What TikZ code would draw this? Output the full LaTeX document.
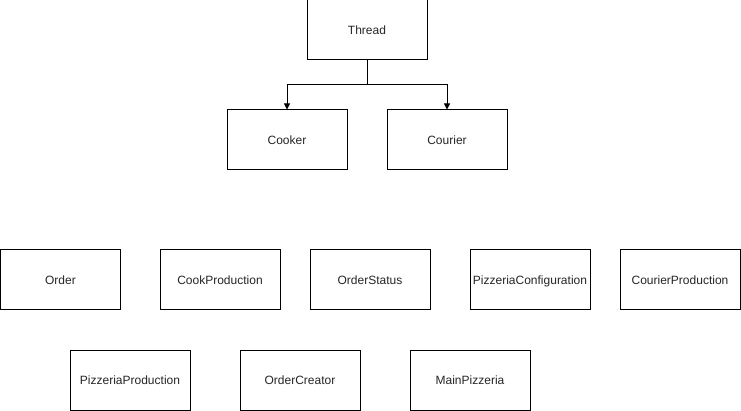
\documentclass[tikz,border=0pt]{standalone}
\usepackage{fontspec}
\setmainfont{Liberation Sans}
\usetikzlibrary{arrows.meta}
\begin{document}
\begin{tikzpicture}[x=1pt,y=-1pt,
  box/.style={draw=black,line width=1pt,fill=white,minimum width=120pt,minimum height=60pt,inner sep=0pt,text height=8.6pt,text depth=0pt,font=\fontsize{12}{14}\selectfont,text=black!85},
  conn/.style={draw=black,line width=1pt,-{Triangle[length=6pt,width=6pt]}}]
\path[use as bounding box,fill=white] (0,0) rectangle (741,411);
\node[box] (thread) at (367,30) {Thread};
\node[box] (cooker) at (287,140) {Cooker};
\node[box] (courier) at (447,140) {Courier};
\node[box] (order) at (60.5,280) {Order};
\node[box] (cookprod) at (220,280) {CookProduction};
\node[box] (status) at (370,280) {OrderStatus};
\node[box] (config) at (530,280) {PizzeriaConfiguration};
\node[box] (courprod) at (680,280) {CourierProduction};
\node[box] (pizprod) at (130,380) {PizzeriaProduction};
\node[box] (creator) at (300,380) {OrderCreator};
\node[box] (main) at (470,380) {MainPizzeria};
\coordinate (split) at (367,85);
\draw[conn] (thread.south) -- (split) -| (cooker.north);
\draw[conn] (thread.south) -- (split) -| (courier.north);
\end{tikzpicture}
\end{document}
